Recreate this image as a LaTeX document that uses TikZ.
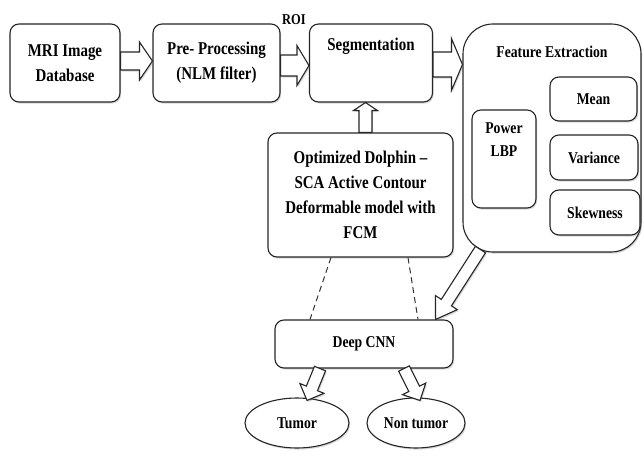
\documentclass[tikz,border=0pt]{standalone}
\usepackage{fontspec}
\setmainfont{Liberation Serif}[FakeStretch=0.83]
\usetikzlibrary{calc,shadows,shapes.geometric}

\tikzset{
  x=1pt, y=-1pt,
  ink/.style={draw=black!85, line width=1.1pt},
  softshadow/.style={drop shadow={shadow xshift=1.2pt, shadow yshift=-1.6pt, opacity=0.3}},
  box/.style={ink, rounded corners=9pt, fill=white, softshadow, inner sep=0pt},
  oval/.style={ink, ellipse, fill=white, softshadow, inner sep=0pt},
  bigtxt/.style={font=\bfseries\fontsize{18pt}{25pt}\selectfont, align=center},
  smalltxt/.style={font=\bfseries\fontsize{16.5pt}{23pt}\selectfont, align=center},
  hollow/.style={ink, fill=white, line join=miter, softshadow},
  link/.style={draw=black!80, line width=1pt, dash pattern=on 6pt off 4pt},
}

% hollow block arrow: {shaft half width}{head half width}{head length}{from}{to}
\newcommand\hollowarrow[5]{%
  \path ($(#5)!#3!(#4)$) coordinate (hb);
  \draw[hollow] ($(#4)!#1!90:(#5)$) -- ($(hb)!#1!-90:(#4)$) -- ($(hb)!#2!-90:(#4)$)
    -- (#5) -- ($(hb)!#2!90:(#4)$) -- ($(hb)!#1!90:(#4)$) -- ($(#4)!#1!-90:(#5)$) -- cycle;}

\begin{document}
\begin{tikzpicture}
\useasboundingbox[fill=white] (0,0) rectangle (644,457);

% pipeline boxes
\node[box, bigtxt, minimum width=110pt, minimum height=78pt] (mri) at (65,63) {MRI Image\\Database};
\node[box, bigtxt, minimum width=127pt, minimum height=78pt] (pre) at (216.5,63) {Pre- Processing\\(NLM filter)};
\node[box, minimum width=123pt, minimum height=78pt,
      label={[bigtxt, anchor=base, yshift=-27pt]north:Segmentation}] (seg) at (371,63) {};
\node[smalltxt, font=\bfseries\fontsize{15pt}{18pt}\selectfont] (roi) at (294,20) {ROI};

% feature extraction group
\node[box, rounded corners=30pt, minimum width=178pt, minimum height=228pt,
      label={[smalltxt, anchor=base, yshift=-34pt]north:Feature Extraction}] (feat) at (552,138) {};
\node[box, minimum width=64pt, minimum height=98pt,
      label={[smalltxt, anchor=north, yshift=-10pt]north:Power\\LBP}] (lbp) at (504,159) {};
\node[box, smalltxt, minimum width=87pt, minimum height=44pt] (mean) at (593.5,99) {Mean};
\node[box, smalltxt, minimum width=88pt, minimum height=45pt] (var) at (594,157.5) {Variance};
\node[box, smalltxt, minimum width=90pt, minimum height=45pt] (skew) at (595,212.5) {Skewness};

% optimisation and classification
\node[box, bigtxt, minimum width=185pt, minimum height=124pt] (dol) at (360.5,195)
  {Optimized Dolphin --\\SCA Active Contour\\Deformable model with\\FCM};
\node[box, smalltxt, minimum width=178pt, minimum height=48pt] (cnn) at (364,344) {Deep CNN};
\node[oval, smalltxt, minimum width=104pt, minimum height=50pt] (tum) at (297,423) {Tumor};
\node[oval, smalltxt, minimum width=98pt, minimum height=50pt] (non) at (416,423) {Non tumor};

% arrow end points
\coordinate (a1s) at ([yshift=2pt]mri.east);
\coordinate (a1e) at (a1s -| pre.west);
\coordinate (a2s) at ([yshift=-2.5pt]pre.east);
\coordinate (a2e) at (a2s -| seg.west);
\coordinate (a3s) at ([yshift=-1.5pt]seg.east);
\coordinate (a3e) at (a3s -| feat.west);
\coordinate (a4s) at ([xshift=5pt]dol.north);
\coordinate (a4e) at (a4s |- seg.south);
\coordinate (a5s) at ([xshift=18pt, yshift=3pt]feat.south west);
\coordinate (a5e) at ([xshift=-18pt]cnn.north east);
\coordinate (a6s) at ([xshift=-44pt]cnn.south);
\coordinate (a6e) at ([xshift=10pt, yshift=-3pt]tum.north);
\coordinate (a7s) at ([xshift=40pt]cnn.south);
\coordinate (a7e) at ([xshift=4pt, yshift=-3pt]non.north);

\hollowarrow{9pt}{19pt}{13pt}{a1s}{a1e}
\hollowarrow{10.5pt}{20pt}{12pt}{a2s}{a2e}
\hollowarrow{12.5pt}{26pt}{11pt}{a3s}{a3e}
\hollowarrow{6.5pt}{12pt}{8pt}{a4s}{a4e}
\hollowarrow{6pt}{13pt}{20pt}{a5s}{a5e}
\hollowarrow{6pt}{13pt}{13pt}{a6s}{a6e}
\hollowarrow{6pt}{13pt}{13pt}{a7s}{a7e}

% dashed links from the contour model to the classifier
\draw[link] ([xshift=-29.5pt]dol.south) -- ([xshift=-54pt]cnn.north);
\draw[link] ([xshift=47.5pt]dol.south) -- ([xshift=54pt]cnn.north);
\end{tikzpicture}
\end{document}
